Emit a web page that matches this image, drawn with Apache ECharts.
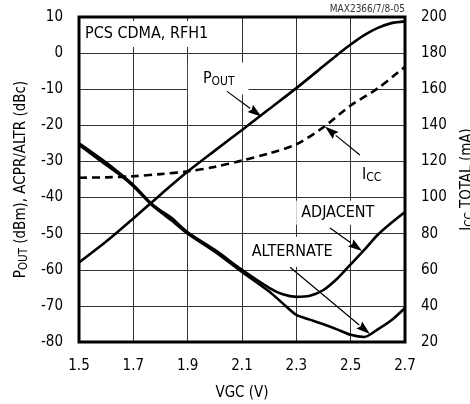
<!DOCTYPE html>
<html><head><meta charset="utf-8">
<script src="https://cdn.jsdelivr.net/npm/echarts@6/dist/echarts.min.js"></script>
<style>html,body{margin:0;padding:0;background:#fff}#c{width:470px;height:404px}</style>
</head><body><div id="c"></div>
<script>
const FONT = "'Liberation Sans Narrow','DejaVu Sans Condensed',sans-serif";

// ---- data ----
const vgcP = [1.5,1.6,1.7,1.8,1.9,2.0,2.1,2.2,2.3,2.4,2.45,2.5,2.55,2.6,2.65,2.7];
const pout = [-58,-52.2,-45.8,-39.2,-32.8,-27,-21.3,-15.5,-9.7,-3.6,-0.5,2.4,5,7,8.3,8.8];

const vgcI = [1.5,1.6,1.7,1.8,1.9,2.0,2.1,2.2,2.3,2.4,2.5,2.6,2.7];
const icc  = [111,111.2,111.8,113,114.5,117,120.5,124.5,129.5,139,151,160.5,172.5];

const vgcA = [1.5,1.55,1.6,1.65,1.7,1.76,1.8,1.84,1.9,2.0,2.1,2.2,2.25,2.3,2.35,2.4,2.45,2.5,2.55,2.6,2.65,2.7];
const adjacent  = [-25,-27.6,-30.3,-33.3,-36.5,-41.2,-43.6,-45.6,-49.6,-54.5,-60,-65,-66.8,-67.5,-67.2,-65.6,-62.5,-58.5,-54.5,-50.3,-47,-44];
const alternate = [-25.4,-28.2,-31,-33.7,-36.9,-41.5,-44,-46.3,-50,-55,-60.6,-66,-69.3,-72.5,-73.8,-75.1,-76.5,-78,-78.6,-76.5,-74,-70.6];

const xMin = 1.5, xMax = 2.7, xStep = 0.2;
const yMin = -80, yMax = 10, yStep = 10;
const y2Min = 20, y2Max = 200, y2Step = 20;

// annotation anchors in data coordinates (left edge / vertical middle)
const labelTexts  = ['PCS CDMA, RFH1', 'P{s|OUT}', 'I{s|CC}', 'ADJACENT', 'ALTERNATE'];
const labelX      = [1.522, 1.956, 2.542, 2.318, 2.136];
const labelY      = [5.3, -7.0, -33.8, -44.2, -55.0];
const arrowFrom   = [[2.045,-10.6],[2.534,123.6],[2.424,-48.4],[2.277,-59.3]];
const arrowTo     = [[2.172,-17.6],[2.405,139.3],[2.542,-54.8],[2.571,-77.8]];
const arrowAxis   = [0,1,0,0];

function pairs(xs, ys){ return xs.map((x,i)=>[x, ys[i]]); }

const chart = echarts.init(document.getElementById('c'));
const FS = 15;
const lbl = {color:'#000', fontFamily:FONT, fontSize:FS};
const rich = {s:{fontFamily:FONT, fontSize:11.5, lineHeight:11, verticalAlign:'bottom', color:'#000'}};

chart.setOption({
  animation:false,
  backgroundColor:'#fff',
  grid:{left:79, right:65, top:17, bottom:62, show:false, containLabel:false, outerBoundsMode:'none'},
  xAxis:{type:'value', min:xMin, max:xMax, interval:xStep,
    axisLine:{show:false}, axisTick:{show:false},
    axisLabel:Object.assign({margin:17, formatter:v=>v.toFixed(1)}, lbl),
    splitLine:{show:true, lineStyle:{color:'#333', width:1}},
    name:'VGC (V)', nameLocation:'middle', nameGap:44, nameTextStyle:lbl},
  yAxis:[
    {type:'value', min:yMin, max:yMax, interval:yStep,
     axisLine:{show:false}, axisTick:{show:false},
     axisLabel:Object.assign({margin:16}, lbl),
     splitLine:{show:true, lineStyle:{color:'#333', width:1}},
     name:'P{s|OUT} (dBm), ACPR/ALTR (dBc)', nameLocation:'middle', nameGap:53,
     nameTextStyle:Object.assign({rich:rich, lineHeight:18, verticalAlign:'middle', fontSize:15.5}, lbl)},
    {type:'value', min:y2Min, max:y2Max, interval:y2Step, position:'right',
     axisLine:{show:false}, axisTick:{show:false},
     axisLabel:Object.assign({margin:16}, lbl),
     splitLine:{show:false},
     name:'I{s|CC} TOTAL (mA)', nameLocation:'middle', nameGap:57, nameRotate:90,
     nameTextStyle:Object.assign({rich:rich, lineHeight:18, verticalAlign:'middle'}, lbl)}
  ],
  series:[
    {name:'POUT', type:'line', data:pairs(vgcP,pout), smooth:0.3, showSymbol:false,
     lineStyle:{color:'#000', width:2.6}, z:5},
    {name:'ICC', type:'line', yAxisIndex:1, data:pairs(vgcI,icc), smooth:0.3, showSymbol:false,
     lineStyle:{color:'#000', width:2.6, type:[8,5]}, z:5},
    {name:'ADJACENT', type:'line', data:pairs(vgcA,adjacent), smooth:0.3, showSymbol:false,
     lineStyle:{color:'#000', width:2.6}, z:5},
    {name:'ALTERNATE', type:'line', data:pairs(vgcA,alternate), smooth:0.25, showSymbol:false,
     lineStyle:{color:'#000', width:2.6}, z:5}
  ]
});

// annotations
const g = [];
const tl = chart.convertToPixel({xAxisIndex:0,yAxisIndex:0},[xMin,yMax]);
const br = chart.convertToPixel({xAxisIndex:0,yAxisIndex:0},[xMax,yMin]);
const pads = [[4,4,4,3],[7,14,7,15],[4,3,4,3],[3,6,3,5],[6,5,6,5]];
labelTexts.forEach((t,i)=>{
  const p = chart.convertToPixel({xAxisIndex:0,yAxisIndex:0},[labelX[i],labelY[i]]);
  g.push({type:'text', x:p[0]-pads[i][3], y:p[1], z:1,
    style:{text:t, fill:'#000', font:(FS+1)+'px '+FONT, align:'left', verticalAlign:'middle',
      backgroundColor:'#fff', padding:pads[i], lineHeight:18,
      rich:{s:{font:'12px '+FONT, lineHeight:11, verticalAlign:'bottom', fill:'#000'}}}});
});
arrowFrom.forEach((f,i)=>{
  const a = chart.convertToPixel({xAxisIndex:0,yAxisIndex:arrowAxis[i]}, f);
  const b = chart.convertToPixel({xAxisIndex:0,yAxisIndex:arrowAxis[i]}, arrowTo[i]);
  const dx=b[0]-a[0], dy=b[1]-a[1], L=Math.hypot(dx,dy), ux=dx/L, uy=dy/L;
  const hl=14, hw=4.5;
  const bx=b[0]-ux*hl, by=b[1]-uy*hl;
  g.push({type:'line', z:6, shape:{x1:a[0],y1:a[1],x2:bx,y2:by}, style:{stroke:'#000', lineWidth:1.2}});
  g.push({type:'polygon', z:6, shape:{points:[[b[0],b[1]],[bx-uy*hw,by+ux*hw],[bx+ux*2,by+uy*2],[bx+uy*hw,by-ux*hw]]},
    style:{fill:'#000'}});
});
g.push({type:'rect', z:10, shape:{x:tl[0], y:tl[1], width:br[0]-tl[0], height:br[1]-tl[1]},
  style:{fill:'none', stroke:'#000', lineWidth:3}});
g.push({type:'text', x:br[0], y:tl[1]-3, z:10,
  style:{text:'MAX2366/7/8-05', fill:'#333', font:'10px '+FONT, align:'right', verticalAlign:'bottom'}});
chart.setOption({graphic:g});
</script>
</body></html>
